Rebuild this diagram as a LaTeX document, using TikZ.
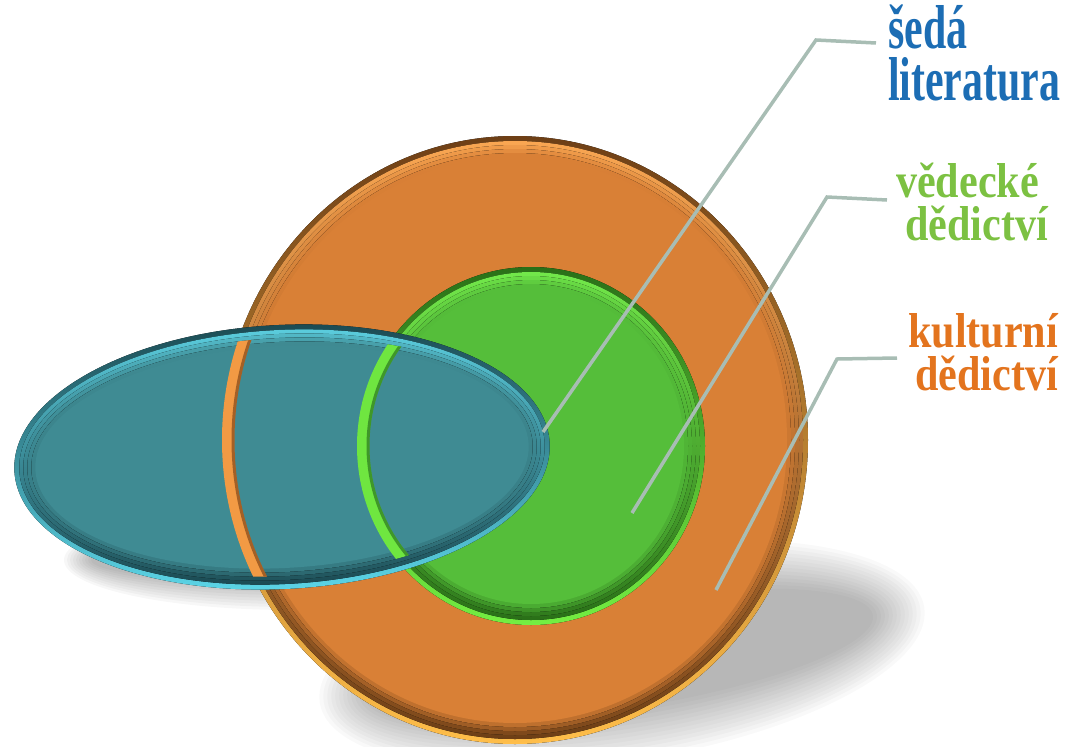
\documentclass[tikz,border=0pt]{standalone}
\usepackage{fontspec}
\setmainfont{Liberation Serif}
\newfontfamily\bluefnt[FakeStretch=0.675]{Liberation Serif}
\newfontfamily\smallfnt[FakeStretch=0.86]{Liberation Serif}
\definecolor{OD}{HTML}{6E3F16}
\definecolor{OB}{HTML}{FFBE4A}
\definecolor{OH}{HTML}{F9A652}
\definecolor{OF}{HTML}{D98036}
\definecolor{OL}{HTML}{F29A44}
\definecolor{GD}{HTML}{2A7018}
\definecolor{GB}{HTML}{74EE42}
\definecolor{GH}{HTML}{72E84A}
\definecolor{GF}{HTML}{55BE3A}
\definecolor{GL}{HTML}{6FE640}
\definecolor{TD}{HTML}{1A4850}
\definecolor{TB}{HTML}{5DD8EA}
\definecolor{TH}{HTML}{5CCFE0}
\definecolor{TF}{HTML}{3F8B93}
\definecolor{blueT}{HTML}{1C6DB4}
\definecolor{greenT}{HTML}{7CC142}
\definecolor{orangeT}{HTML}{E3741E}
\definecolor{leadgray}{HTML}{A8BDB4}
\newcommand{\bevshape}[7]{%
  \fill[top color=#4, middle color=#4!50!#5, bottom color=#5] (#1) ellipse [x radius={#2*1pt}, y radius={#3*1pt}];
  \fill[top color=#6, middle color=#7, bottom color=#4] (#1) ellipse [x radius={(#2-5)*1pt}, y radius={(#3-5)*1pt}];
  \fill[top color=#6!70!#7, middle color=#7, bottom color=#4!85!#7] (#1) ellipse [x radius={(#2-9)*1pt}, y radius={(#3-9)*1pt}];
  \fill[top color=#6!35!#7, middle color=#7, bottom color=#4!55!#7] (#1) ellipse [x radius={(#2-13)*1pt}, y radius={(#3-13)*1pt}];
  \fill[top color=#7, middle color=#7, bottom color=#4!25!#7] (#1) ellipse [x radius={(#2-17)*1pt}, y radius={(#3-17)*1pt}];
  \fill[#7] (#1) ellipse [x radius={(#2-21)*1pt}, y radius={(#3-21)*1pt}];
}
\tikzset{
  leader/.style={draw=leadgray, line width=3.5pt},
  lbl/.style={inner sep=0pt, align=left, anchor=base west},
}
\begin{document}
\begin{tikzpicture}[x=1pt,y=-1pt]
\useasboundingbox (0,0) rectangle (1069,747);
% shadows
\begin{scope}[rotate around={9:(622,655)}]
  \foreach \i in {0,...,13}
    \fill[black, opacity=0.025] (622,655) ellipse [x radius={(306-4*\i)*1pt}, y radius={(106-4*\i)*1pt}];
\end{scope}
\foreach \i in {0,...,9}
  \fill[black, opacity=0.03] (292,560) ellipse [x radius={(228-3*\i)*1pt}, y radius={(50-3*\i)*1pt}];
% orange circle
\bevshape{515,440}{293}{304}{OD}{OB}{OH}{OF}
% green circle
\bevshape{531,446}{174}{179}{GD}{GB}{GH}{GF}
% teal ellipse
\begin{scope}[rotate around={3:(282,457)}]
  \bevshape{282,457}{268}{132}{TD}{TB}{TH}{TF}
\end{scope}
% circle rims seen through the ellipse
\begin{scope}
  \clip[rotate around={3:(282,457)}] (282,457) ellipse [x radius=255pt, y radius=119pt];
  \fill[OL, even odd rule] (515,440) ellipse [x radius=293pt, y radius=304pt]
                           (515,440) ellipse [x radius=281pt, y radius=292pt];
  \draw[OD!50!OF, line width=3pt] (515,440) ellipse [x radius=282pt, y radius=293pt];
  \fill[GL, even odd rule] (531,446) ellipse [x radius=174pt, y radius=179pt]
                           (531,446) ellipse [x radius=162pt, y radius=167pt];
  \draw[GD!50!GF, line width=3pt] (531,446) ellipse [x radius=163pt, y radius=168pt];
\end{scope}
% labels
\node[lbl, text=blueT, font=\bluefnt\bfseries\fontsize{62}{52}\selectfont] (sl) at (888,100) {šedá\\literatura};
\node[lbl, text=greenT, font=\smallfnt\bfseries\fontsize{49}{43}\selectfont] (vd) at (896,240) {vědecké\\\hspace*{9pt}dědictví};
\node[lbl, text=orangeT, font=\smallfnt\bfseries\fontsize{49}{43}\selectfont] (kd) at (908,390) {kulturní\\\hspace*{7pt}dědictví};
% leaders
\coordinate (s1a) at (876,43);
\coordinate (s1b) at (816,40);
\coordinate (s1c) at (543,432);
\coordinate (s2a) at (887,200);
\coordinate (s2b) at (827,197);
\coordinate (s2c) at (632,513);
\coordinate (s3a) at (897,358);
\coordinate (s3b) at (837,359);
\coordinate (s3c) at (716,590);
\draw[leader] (s1a) -- (s1b) -- (s1c);
\draw[leader] (s2a) -- (s2b) -- (s2c);
\draw[leader] (s3a) -- (s3b) -- (s3c);
\end{tikzpicture}
\end{document}
